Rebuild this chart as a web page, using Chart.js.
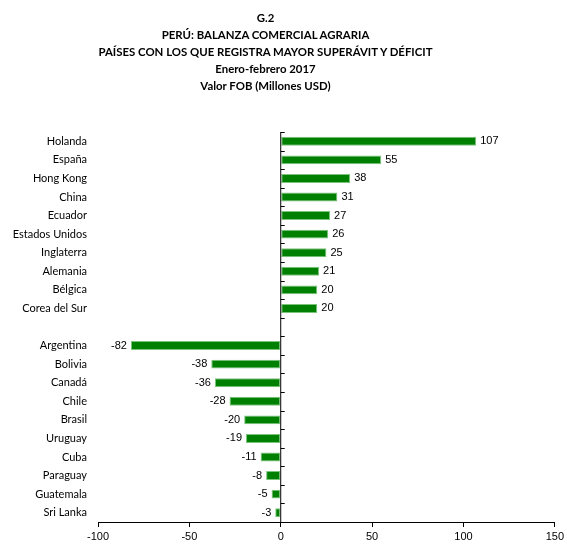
<!DOCTYPE html>
<html>
<head>
<meta charset="utf-8">
<script src="https://cdn.jsdelivr.net/npm/chart.js@4"></script>
<style>
    body { margin: 0; background: #fff; }
    #wrap { position: relative; width: 567px; height: 546px; }
    #title {
        position: absolute; left: 0; top: 9px; width: 531px;
        text-align: center; font-family: Lato, sans-serif; font-weight: bold;
        font-size: 11.4px; line-height: 17px; color: #000;
    }
</style>
</head>
<body>
<div id="wrap">
    <div id="title">
        G.2<br>
        PERÚ: BALANZA COMERCIAL AGRARIA<br>
        PAÍSES CON LOS QUE REGISTRA MAYOR SUPERÁVIT Y DÉFICIT<br>
        Enero-febrero 2017<br>
        Valor FOB (Millones USD)
    </div>
    <canvas id="balanza" width="567" height="546"></canvas>
</div>
<script>
// Countries with surplus, then an empty row, then countries with deficit
let surplusCountries = ["Holanda", "España", "Hong Kong", "China", "Ecuador", "Estados Unidos", "Inglaterra", "Alemania", "Bélgica", "Corea del Sur"];
let surplusValues = [107, 55, 38, 31, 27, 26, 25, 21, 20, 20];

let deficitCountries = ["Argentina", "Bolivia", "Canadá", "Chile", "Brasil", "Uruguay", "Cuba", "Paraguay", "Guatemala", "Sri Lanka"];
let deficitValues = [-82, -38, -36, -28, -20, -19, -11, -8, -5, -3];

let xTicks = [-100, -50, 0, 50, 100, 150];

let countries = surplusCountries.concat([""], deficitCountries);
let values = surplusValues.concat([null], deficitValues);

// Draws the value next to each bar
const valueLabels = {
    id: 'valueLabels',
    afterDatasetsDraw(chart) {
        const ctx = chart.ctx;
        const meta = chart.getDatasetMeta(0);
        ctx.save();
        ctx.font = '11px "Liberation Sans", Arial, sans-serif';
        ctx.fillStyle = '#000';
        ctx.textBaseline = 'middle';
        meta.data.forEach((bar, i) => {
            let v = values[i];
            if (v === null) return;
            if (v >= 0) {
                ctx.textAlign = 'left';
                ctx.fillText(v, bar.x + 4, bar.y);
            } else {
                ctx.textAlign = 'right';
                ctx.fillText(v, bar.x - 4, bar.y);
            }
        });
        ctx.restore();
    }
};

// Vertical axis at zero with small tick marks between the rows
const zeroAxis = {
    id: 'zeroAxis',
    afterDatasetsDraw(chart) {
        const ctx = chart.ctx;
        const x = chart.scales.x.getPixelForValue(0);
        const y = chart.scales.y;
        const area = chart.chartArea;
        ctx.save();
        ctx.strokeStyle = '#000';
        ctx.lineWidth = 1;
        ctx.beginPath();
        ctx.moveTo(x, area.top);
        ctx.lineTo(x, area.bottom);
        let step = y.getPixelForValue(1) - y.getPixelForValue(0);
        for (let i = 0; i <= countries.length; i++) {
            let ty = Math.round(y.getPixelForValue(i) - step / 2) + 0.5;
            ctx.moveTo(x, ty);
            ctx.lineTo(x + 4, ty);
        }
        ctx.stroke();
        ctx.restore();
    }
};

new Chart("balanza", {
    type: "bar",
    data: {
        labels: countries,
        datasets: [{
            data: values,
            backgroundColor: "#008000",
            borderColor: "#7cc47c",
            borderWidth: 1,
            borderSkipped: false,
            barPercentage: 0.48,
            categoryPercentage: 1
        }]
    },
    plugins: [valueLabels, zeroAxis],
    options: {
        indexAxis: 'y',
        responsive: false,
        animation: false,
        layout: {
            padding: { left: 0, right: 10, top: 132, bottom: 0 }
        },
        plugins: {
            legend: { display: false },
            tooltip: { enabled: false }
        },
        scales: {
            x: {
                min: -100,
                max: 150,
                afterBuildTicks: scale => { scale.ticks = xTicks.map(v => ({ value: v })); },
                afterFit: scale => { scale.height = 24; },
                border: { display: true, color: '#000', width: 1 },
                grid: { drawOnChartArea: false, drawTicks: true, tickLength: 5, color: '#000' },
                ticks: {
                    color: '#000',
                    padding: 3,
                    maxRotation: 0,
                    font: { family: '"Liberation Sans", Arial, sans-serif', size: 11 }
                }
            },
            y: {
                afterFit: scale => { scale.width = 98; },
                border: { display: false },
                grid: { display: false, drawTicks: false },
                ticks: {
                    color: '#000',
                    padding: 11,
                    autoSkip: false,
                    font: { family: 'Lato, sans-serif', size: 11 }
                }
            }
        }
    }
});
</script>
</body>
</html>
